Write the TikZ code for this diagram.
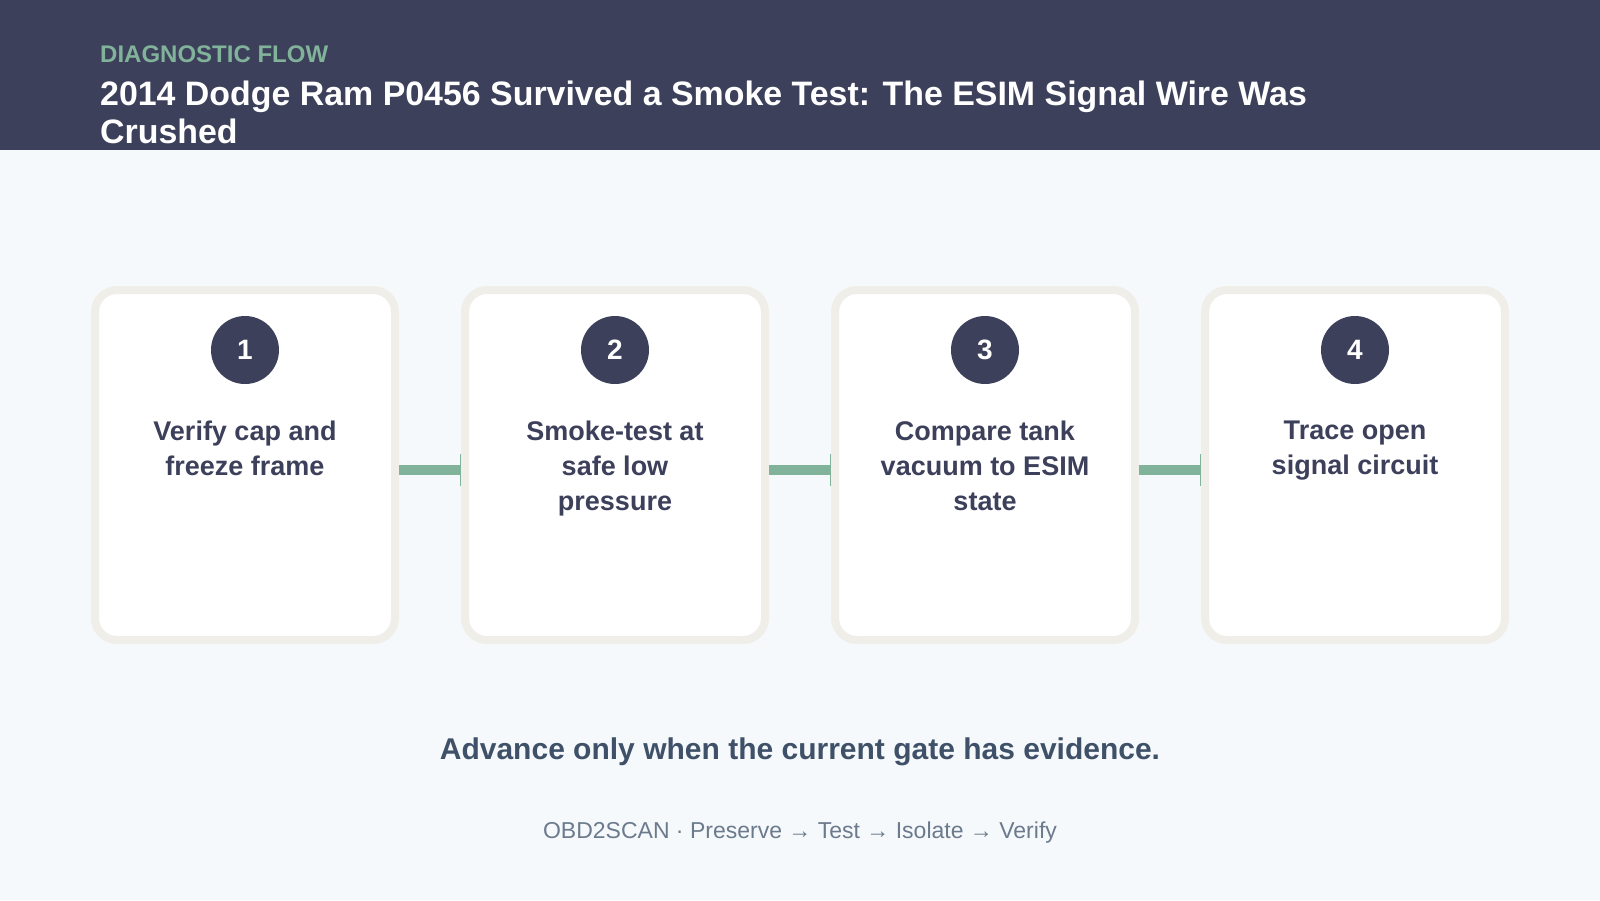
\documentclass[tikz,border=0pt]{standalone}
\usepackage{fontspec}
\setmainfont{Liberation Sans}
\usepackage{xcolor}
\usepackage{tikz}
\usetikzlibrary{arrows.meta}

\definecolor{navy}{HTML}{3D405B}
\definecolor{sage}{HTML}{81B29A}
\definecolor{shell}{HTML}{EFEEE8}
\definecolor{paper}{HTML}{F6F9FC}
\definecolor{slate}{HTML}{3F5168}
\definecolor{muted}{HTML}{6B7A8C}

\begin{document}
\begin{tikzpicture}[x=1pt,y=1pt]
			\tikzstyle{card} = [draw=shell, line width=8pt, fill=white, rounded corners=22pt, minimum width=300pt, minimum height=350pt]
			\tikzstyle{badge} = [circle, fill=navy, minimum size=68pt, inner sep=0pt, text=white, font=\fontsize{28}{28}\selectfont\bfseries]
			\tikzstyle{steptext} = [align=center, anchor=north, inner sep=0pt, text=navy, font=\fontsize{27}{35}\selectfont\bfseries, execute at begin node=\strut]
			\tikzset{edge/.style = {draw=sage, line width=10pt, -{Bar[width=32pt, line width=1.5pt]}}}
			
			% page and header band
			\useasboundingbox (0,0) rectangle (1600,-900);
			\fill[paper] (0,0) rectangle (1600,-900);
			\fill[navy] (0,0) rectangle (1600,-150);
			
			\node[anchor=base west, inner sep=0pt, text=sage, font=\fontsize{24}{24}\selectfont\bfseries](kicker) at (100,-62) {DIAGNOSTIC FLOW};
			\node[anchor=north west, align=left, inner sep=0pt, text=white, font=\fontsize{33.9}{38.5}\selectfont\bfseries, execute at begin node=\strut](title) at (100,-80.6) {2014 Dodge Ram P0456 Survived a Smoke Test: The ESIM Signal Wire Was\\Crushed};
			
			% steps
			\node[card](card1) at (245,-465) {};
			\node[card](card2) at (615,-465) {};
			\node[card](card3) at (985,-465) {};
			\node[card](card4) at (1355,-465) {};
			
			\node[badge](badge1) at (245,-350) {1};
			\node[badge](badge2) at (615,-350) {2};
			\node[badge](badge3) at (985,-350) {3};
			\node[badge](badge4) at (1355,-350) {4};
			
			\node[steptext](text1) at (245,-421) {Verify cap and\\freeze frame};
			\node[steptext](text2) at (615,-421) {Smoke-test at\\safe low\\pressure};
			\node[steptext](text3) at (985,-421) {Compare tank\\vacuum to ESIM\\state};
			\node[steptext](text4) at (1355,-421) {Trace open\\signal circuit};
			
			\draw[edge]([yshift=-5pt]card1.east) to ([yshift=-5pt]card2.west);
			\draw[edge]([yshift=-5pt]card2.east) to ([yshift=-5pt]card3.west);
			\draw[edge]([yshift=-5pt]card3.east) to ([yshift=-5pt]card4.west);
			
			% footer
			\node[anchor=base, inner sep=0pt, text=slate, font=\fontsize{30}{30}\selectfont\bfseries](motto) at (800,-759) {Advance only when the current gate has evidence.};
			\node[anchor=base, inner sep=0pt, text=muted, font=\fontsize{23}{23}\selectfont](footer) at (800,-838) {OBD2SCAN · Preserve → Test → Isolate → Verify};
			
\end{tikzpicture}
\end{document}
